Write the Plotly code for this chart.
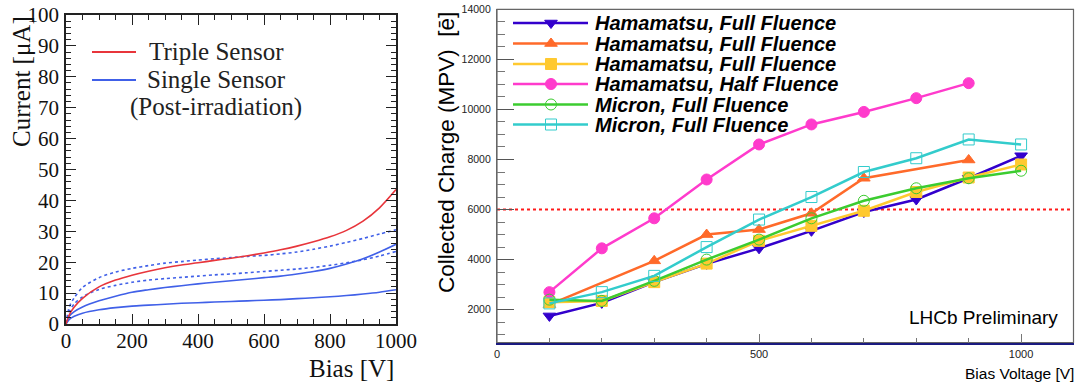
import plotly.graph_objects as go

W, H = 1079, 383

# ---------------- left panel data (I-V curves) ----------------
bias_iv = [0, 10, 25, 50, 100, 150, 200, 250, 300, 350, 400, 450, 500, 550, 600, 650, 700, 750, 800,
           850, 900, 950, 1000]
triple_sensor = [0, 3.0, 5.5, 8.3, 12.0, 14.2, 15.8, 17.1, 18.2, 19.1, 19.8, 20.6, 21.3, 22.1, 23.0, 24.0,
                 25.2, 26.6, 28.2, 30.3, 33.3, 37.6, 43.5]
single_dot_hi = [0, 5.5, 8.5, 11.8, 15.0, 16.8, 18.0, 18.9, 19.7, 20.2, 20.7, 21.1, 21.5, 21.9, 22.2, 22.7,
                 23.3, 24.2, 25.2, 26.4, 27.7, 29.1, 30.5]
single_dot_lo = [0, 4.0, 6.5, 8.8, 11.2, 12.5, 13.5, 14.2, 14.7, 15.1, 15.5, 15.9, 16.2, 16.6, 17.0, 17.4,
                 17.8, 18.3, 19.0, 19.8, 20.8, 22.0, 23.5]
single_mid = [0, 2.5, 4.0, 5.5, 7.5, 9.0, 10.3, 11.1, 11.8, 12.4, 13.0, 13.5, 14.0, 14.5, 15.0, 15.5,
              16.2, 17.0, 18.0, 19.4, 21.1, 23.3, 25.8]
single_low = [0, 1.5, 2.5, 3.5, 4.6, 5.3, 5.8, 6.1, 6.4, 6.7, 6.9, 7.1, 7.3, 7.5, 7.7, 7.9,
              8.2, 8.5, 8.8, 9.2, 9.7, 10.3, 11.1]

# ---------------- right panel data (collected charge) ----------------
bias_cc = [100, 200, 300, 400, 500, 600, 700, 800, 900, 1000]
bias_cc_b = [100, 300, 400, 500, 600, 700, 900]
bias_cc_half = [100, 200, 300, 400, 500, 600, 700, 800, 900]
hpk_full_a = [1750, 2270, 3100, 3830, 4450, 5150, 5900, 6400, 7250, 8150]
hpk_full_b = [2200, 3950, 5000, 5200, 5850, 7250, 7980]
hpk_full_c = [2300, 2350, 3100, 3840, 4750, 5350, 5950, 6700, 7280, 7800]
hpk_half = [2700, 4450, 5650, 7200, 8600, 9400, 9900, 10450, 11050]
micron_a = [2400, 2350, 3150, 4000, 4800, 5650, 6350, 6850, 7250, 7550]
micron_b = [2250, 2700, 3350, 4500, 5600, 6500, 7500, 8050, 8800, 8600]
threshold = 6000

legend_names = ["Hamamatsu, Full Fluence", "Hamamatsu, Full Fluence", "Hamamatsu, Full Fluence",
                "Hamamatsu, Half Fluence", "Micron, Full Fluence", "Micron, Full Fluence"]

SERIF = "Liberation Serif"
SANS = "Liberation Sans"
RED = "#e8353b"
BLUE = "#4060e8"

fig = go.Figure()

# ---- left panel traces
def iv(y, color, dash):
    fig.add_trace(go.Scatter(x=bias_iv, y=y, mode="lines", xaxis="x", yaxis="y",
                             line=dict(color=color, width=1.6, dash=dash, shape="spline", smoothing=0.8),
                             showlegend=False, hoverinfo="skip"))

iv(single_low, BLUE, "solid")
iv(single_mid, BLUE, "solid")
iv(single_dot_lo, BLUE, "dot")
iv(single_dot_hi, BLUE, "dot")
iv(triple_sensor, RED, "solid")

# ---- right panel traces
series = [
    (bias_cc, hpk_full_a, "#3300cc", "triangle-down"),
    (bias_cc_b, hpk_full_b, "#ff6a2a", "triangle-up"),
    (bias_cc, hpk_full_c, "#ffc930", "square"),
    (bias_cc_half, hpk_half, "#ff3bcc", "circle"),
    (bias_cc, micron_a, "#3ccc30", "circle-open"),
    (bias_cc, micron_b, "#33cccc", "square-open"),
]
for (xs, ys, col, sym), name in zip(series, legend_names):
    fig.add_trace(go.Scatter(x=xs, y=ys, mode="lines+markers", xaxis="x2", yaxis="y2",
                             line=dict(color=col, width=2.5),
                             marker=dict(symbol=sym, size=11, color=col, line=dict(color=col, width=1)),
                             name=name, showlegend=False, hoverinfo="skip"))

# ---- hand-drawn legends on a pixel overlay axis (x3/y3)
leg_rows = [23, 43.5, 64, 84, 104.5, 124.5]
for (xs, ys, col, sym), name, yy in zip(series, legend_names, leg_rows):
    fig.add_trace(go.Scatter(x=[513, 588], y=[yy, yy], mode="lines", xaxis="x3", yaxis="y3",
                             line=dict(color=col, width=2.5), showlegend=False, hoverinfo="skip"))
    fig.add_trace(go.Scatter(x=[551], y=[yy], mode="markers", xaxis="x3", yaxis="y3",
                             marker=dict(symbol=sym, size=11, color=col, line=dict(color=col, width=1)),
                             showlegend=False, hoverinfo="skip"))
    fig.add_annotation(x=593, y=yy, xref="x3", yref="y3", text=name, showarrow=False,
                       xanchor="left", yanchor="middle",
                       font=dict(family=SANS, size=20, color="black", weight="bold", style="italic"))

for yy, col, txt, tx in [(52, RED, "Triple Sensor", 147), (80, BLUE, "Single Sensor", 145)]:
    fig.add_trace(go.Scatter(x=[92, 136], y=[yy, yy], mode="lines", xaxis="x3", yaxis="y3",
                             line=dict(color=col, width=2), showlegend=False, hoverinfo="skip"))
    fig.add_annotation(x=tx, y=yy - 1, xref="x3", yref="y3", text=txt, showarrow=False,
                       xanchor="left", yanchor="middle", font=dict(family=SERIF, size=25, color="#222"))
fig.add_annotation(x=216, y=107, xref="x3", yref="y3", text="(Post-irradiation)", showarrow=False,
                   xanchor="center", yanchor="middle", font=dict(family=SERIF, size=25, color="#222"))

# ---- axis titles
fig.add_annotation(x=21, y=82, xref="x3", yref="y3", text="Current [μA]", textangle=-90, showarrow=False,
                   xanchor="center", yanchor="middle", font=dict(family=SERIF, size=25, color="#111"))
fig.add_annotation(x=396, y=368, xref="x3", yref="y3", text="Bias [V]", showarrow=False,
                   xanchor="right", yanchor="middle", font=dict(family=SERIF, size=25, color="#111"))
fig.add_annotation(x=446, y=153, xref="x3", yref="y3", text="Collected Charge (MPV)  [ē]", textangle=-90,
                   showarrow=False, xanchor="center", yanchor="middle",
                   font=dict(family=SANS, size=22.5, color="black"))
fig.add_annotation(x=1076, y=373, xref="x3", yref="y3", text="Bias Voltage [V]", showarrow=False,
                   xanchor="right", yanchor="middle", font=dict(family=SANS, size=15.5, color="black"))
fig.add_annotation(x=1060, y=317, xref="x3", yref="y3", text="LHCb Preliminary", showarrow=False,
                   xanchor="right", yanchor="middle", font=dict(family=SANS, size=19, color="black"))

# ---- threshold line and right frame
fig.add_shape(type="line", xref="x2 domain", yref="y2", x0=0, x1=1, y0=threshold, y1=threshold,
              line=dict(color="#ff1a1a", width=2, dash="dot"), layer="below")
fig.add_shape(type="rect", xref="x2 domain", yref="y2 domain", x0=0, x1=1, y0=0, y1=1,
              line=dict(color="#666", width=1.2), layer="below")

lx = [66 / W, 396 / W]
ly = [1 - 324 / H, 1 - 15 / H]
rx = [497 / W, 1073.5 / W]
ry = [1 - 342.7 / H, 1 - 9.3 / H]

fig.update_layout(
    width=W, height=H, margin=dict(l=0, r=0, t=0, b=0, pad=0, autoexpand=False),
    paper_bgcolor="white", plot_bgcolor="rgba(0,0,0,0)", showlegend=False,
    xaxis=dict(domain=lx, anchor="y", range=[0, 1000], tickmode="linear", tick0=0, dtick=200,
               ticks="inside", ticklen=10, tickwidth=1.2, tickcolor="#222", automargin=False,
               minor=dict(ticks="inside", ticklen=5, dtick=50, tickcolor="#222", tickwidth=1.2),
               showline=True, linecolor="#222", linewidth=1.6, mirror="ticks", showgrid=False,
               zeroline=False, tickfont=dict(family=SERIF, size=21, color="#111"), ticklabelstandoff=-3),
    yaxis=dict(domain=ly, anchor="x", range=[0, 100], tickmode="linear", tick0=0, dtick=10,
               ticks="inside", ticklen=10, tickwidth=1.2, tickcolor="#222", automargin=False,
               minor=dict(ticks="inside", ticklen=5, dtick=2, tickcolor="#222", tickwidth=1.2),
               showline=True, linecolor="#222", linewidth=1.6, mirror="ticks", showgrid=False,
               zeroline=False, tickfont=dict(family=SERIF, size=21, color="#111"), ticklabelstandoff=1),
    xaxis2=dict(domain=rx, anchor="y2", range=[0, 1100], tickmode="linear", tick0=0, dtick=500,
                ticks="inside", ticklen=9, tickwidth=1, tickcolor="#777", automargin=False,
                minor=dict(ticks="inside", ticklen=5, dtick=100, tickcolor="#777", tickwidth=1),
                showline=True, linecolor="#1a1a80", linewidth=2.2, showgrid=False, zeroline=False,
                tickfont=dict(family=SANS, size=11, color="#222"), ticklabelstandoff=0),
    yaxis2=dict(domain=ry, anchor="x2", range=[680, 14000], tickmode="linear", tick0=0, dtick=2000,
                ticks="inside", ticklen=17, tickwidth=1, tickcolor="#555", automargin=False,
                tickformat="d",
                minor=dict(ticks="inside", ticklen=8, dtick=500, tickcolor="#777", tickwidth=1),
                showline=True, linecolor="#666", linewidth=1.2, showgrid=False, zeroline=False,
                tickfont=dict(family=SANS, size=10.5, color="#222"), ticklabelstandoff=3),
    xaxis3=dict(domain=[0, 1], anchor="y3", range=[0, W], visible=False, fixedrange=True, automargin=False),
    yaxis3=dict(domain=[0, 1], anchor="x3", range=[H, 0], visible=False, fixedrange=True, automargin=False),
)

fig.write_html("out.html")
